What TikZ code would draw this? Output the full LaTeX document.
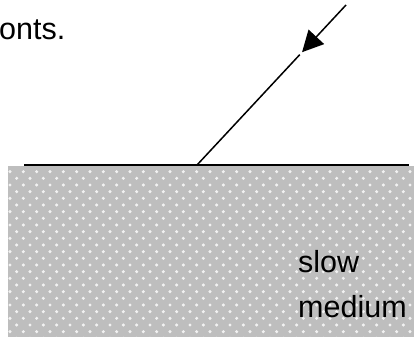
\documentclass[tikz,border=0pt]{standalone}
\usepackage{fontspec}
\setmainfont{Liberation Sans}
\usetikzlibrary{arrows.meta,calc}
\definecolor{mediumgray}{RGB}{190,190,190}
\tikzset{
  label text/.style={inner sep=0pt, anchor=base west, font=\fontsize{30.5}{45}\selectfont},
  surface/.style={line width=1.7pt, black},
  ray/.style={line width=1.5pt, black},
  dot/.style={fill=white, draw=none, opacity=0.8}
}
\begin{document}
\begin{tikzpicture}[x=1pt,y=-1pt]
\useasboundingbox (0,0) rectangle (414,337);
% slow medium block
\fill[mediumgray] (8,166) rectangle (414,337);
\begin{scope}
\clip (8,166) rectangle (414,337);
\foreach \r in {1,...,26}{
  \pgfmathsetmacro{\yy}{165+\r*6.667}
  \pgfmathsetmacro{\xo}{isodd(\r) ? 10 : 3.33}
  \foreach \m in {0,...,31}{
    \fill[dot] (\xo+\m*13.333,\yy) circle (1.7);
  }
}
\end{scope}
% surface line
\coordinate (sl) at (24,165);
\coordinate (sr) at (409,165);
\draw[surface] (sl) -- (sr);
% incident ray
\coordinate (top) at (346,5);
\coordinate (foot) at (197,165);
\coordinate (tip) at ($(foot)!0.705!(top)$);
\coordinate (gap) at ($(foot)!0.69!(top)$);
\draw[ray, -{Triangle[length=21pt,width=21pt]}] (top) -- (tip);
\draw[ray] (gap) -- (foot);
% texts
\node[label text] (onts) at (-1,39) {onts.};
\node[label text] (slow) at (298,272) {slow};
\node[label text] (medium) at (298,317) {medium};
\end{tikzpicture}
\end{document}
